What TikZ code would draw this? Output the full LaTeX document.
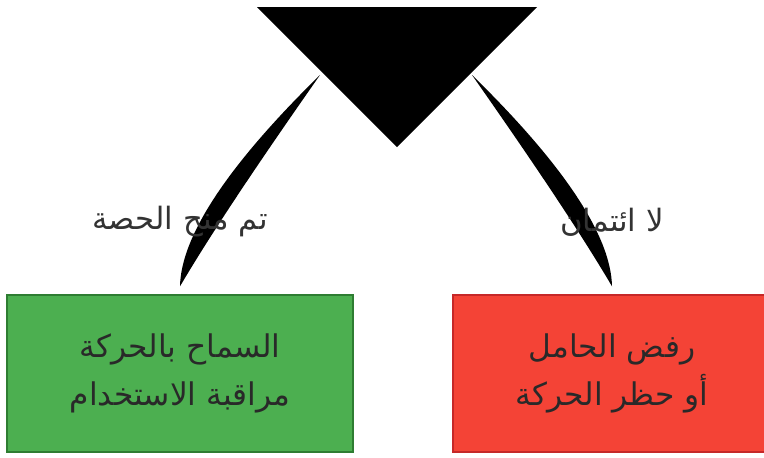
\documentclass[tikz,border=0pt]{standalone}
\usepackage{fontspec}
\newfontfamily\arabicfont[Script=Arabic]{DejaVu Sans}
\TeXXeTstate=1
\definecolor{okgreen}{HTML}{4CAF50}
\definecolor{okgreenline}{HTML}{2E7D32}
\definecolor{badred}{HTML}{F44336}
\definecolor{badredline}{HTML}{C62828}
\definecolor{inkgray}{HTML}{333333}
\usetikzlibrary{positioning}

\begin{document}
\begin{tikzpicture}[
  x=0.02cm, y=-0.02cm,
  wedge/.style={fill=black},
  lbl/.style={font=\arabicfont\fontsize{17.5}{20}\selectfont, text=inkgray, inner sep=0pt},
  outbox/.style={draw, line width=0.8pt, minimum height=3.14cm, align=center,
                 font=\arabicfont\fontsize{17.8}{27}\selectfont, text=inkgray!80!black},
]
\useasboundingbox (0,0) rectangle (764,457);
\clip (0,0) rectangle (764,457);
% decision head
\coordinate (tl) at (257,7);
\coordinate (tr) at (537,7);
\coordinate (tip) at (397,147);
\fill (tl) -- (tr) -- (tip) -- cycle;
% outcome boxes
\node[outbox, fill=okgreen, draw=okgreenline, minimum width=6.92cm] (grant) at (180,373.5)
  {\beginR السماح بالحركة\endR\\ \beginR مراقبة الاستخدام\endR};
\node[outbox, fill=badred, draw=badredline, minimum width=6.36cm] (deny) at (612,373.5)
  {\beginR رفض الحامل\endR\\ \beginR أو حظر الحركة\endR};
% tapered connectors
\coordinate (gtop) at (320,75);
\coordinate (gend) at ([yshift=0.16cm]grant.north);
\coordinate (dtop) at (472,75);
\coordinate (dend) at ([yshift=0.16cm]deny.north);
\fill[wedge] (gtop) .. controls (228,165) and (181,236) .. (gend)
  .. controls (212,232) and (259,162) .. (gtop) -- cycle;
\fill[wedge] (dtop) .. controls (564,165) and (611,236) .. (dend)
  .. controls (580,232) and (533,162) .. (dtop) -- cycle;
% branch labels
\node[lbl] (glbl) at (180,222) {\beginR تم منح الحصة\endR};
\node[lbl] (dlbl) at (612,222) {\beginR لا ائتمان\endR};
\end{tikzpicture}
\end{document}
